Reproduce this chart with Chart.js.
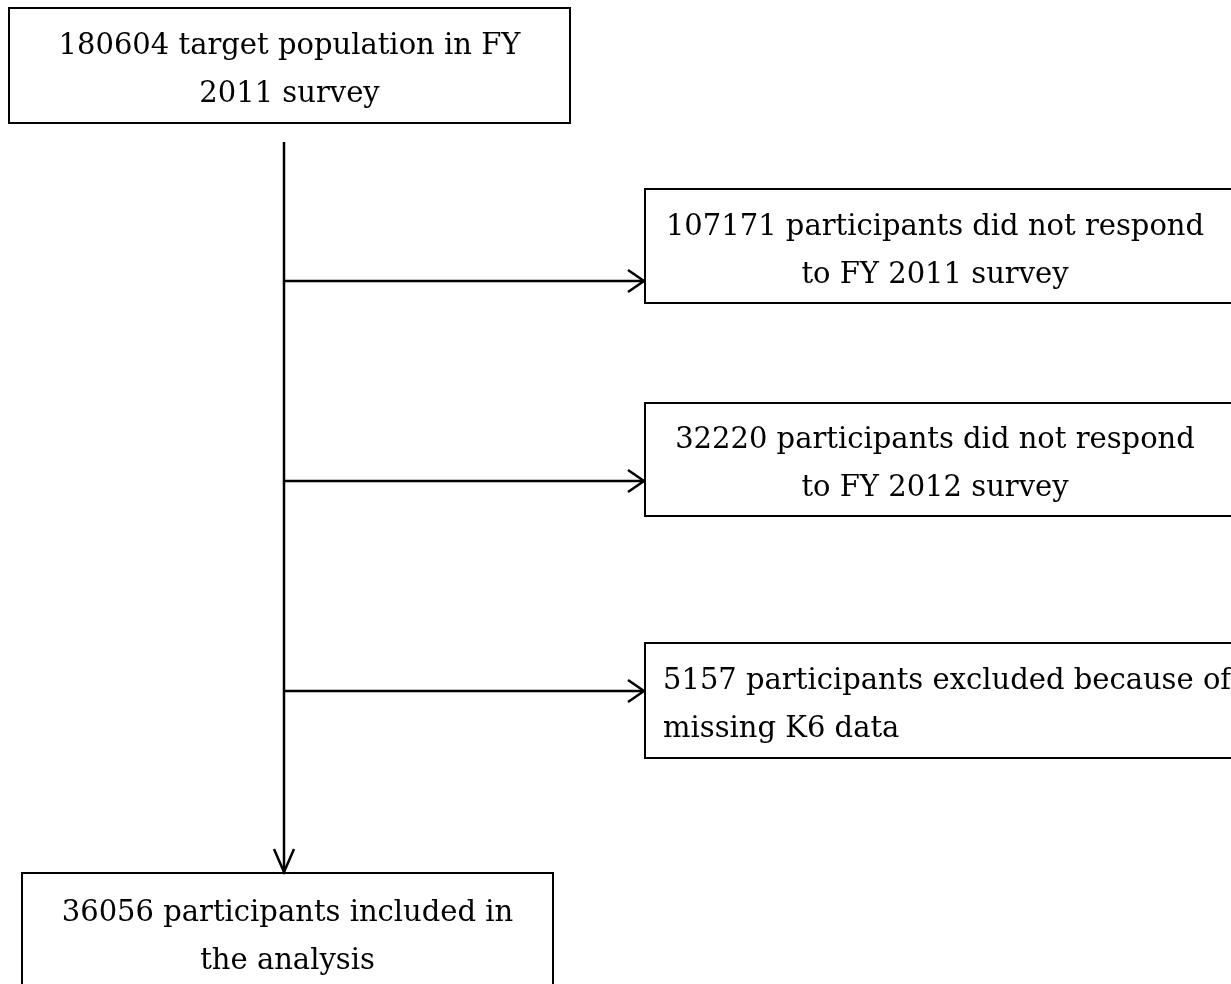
<!DOCTYPE html>
<html>
<head>
<meta charset="utf-8">
<script src="https://cdn.jsdelivr.net/npm/chart.js@4"></script>
<style>
  html, body { margin: 0; padding: 0; background: #fff; }
  canvas { display: block; }
</style>
</head>
<body>
<canvas id="flowChart" width="1231" height="984"></canvas>
<script>
// counts and labels of each step of the flow
const stepCounts = [180604, 107171, 32220, 5157, 36056];
const stepTexts = [
    ["target population in FY", "2011 survey"],
    ["participants did not respond", "to FY 2011 survey"],
    ["participants did not respond", "to FY 2012 survey"],
    ["participants excluded because of", "missing K6 data"],
    ["participants included in", "the analysis"]
];

// layout of the boxes (page pixels), one entry per step
const boxLeft = [9, 645, 645, 645, 22];
const boxRight = [570, 1240, 1240, 1240, 553];
const boxTop = [8, 189, 403, 643, 873];
const boxBottom = [123, 303, 516, 758, 1000];
const textAlign = ["center", "center", "center", "left", "center"];
const trunkX = 284;
const trunkTop = 142;
const branchY = [281, 481, 691];

const fontSize = 29;
const lineGap = 48;

function boxLines(i) {
    let lines = stepTexts[i].slice();
    lines[0] = stepCounts[i] + " " + lines[0];
    return lines;
}

function arrowHead(ctx, tx, ty, dir) {
    // open chevron, dir: "right" or "down"
    ctx.beginPath();
    if (dir === "right") {
        ctx.moveTo(tx - 16, ty - 11);
        ctx.lineTo(tx, ty);
        ctx.lineTo(tx - 16, ty + 11);
    } else {
        ctx.moveTo(tx - 10, ty - 23);
        ctx.lineTo(tx, ty);
        ctx.lineTo(tx + 10, ty - 23);
    }
    ctx.stroke();
}

const flowPlugin = {
    id: "flowPlugin",
    afterDraw(chart) {
        let ctx = chart.ctx;
        let x = chart.scales.x;
        let y = chart.scales.y;
        ctx.save();
        ctx.strokeStyle = "#000";
        ctx.fillStyle = "#000";
        ctx.lineCap = "butt";

        // boxes
        ctx.lineWidth = 2;
        for (let i = 0; i < stepCounts.length; i++) {
            let l = x.getPixelForValue(boxLeft[i]);
            let r = x.getPixelForValue(boxRight[i]);
            let t = y.getPixelForValue(boxTop[i]);
            let b = y.getPixelForValue(boxBottom[i]);
            ctx.strokeRect(l, t, r - l, b - t);

            let lines = boxLines(i);
            ctx.font = fontSize + "px 'DejaVu Serif', serif";
            ctx.textBaseline = "middle";
            let firstY = t + (b - t) / 2 - lineGap / 2 + 5;
            if (i === 4) firstY = t + 40;
            lines.forEach((txt, k) => {
                if (textAlign[i] === "left") {
                    ctx.textAlign = "left";
                    ctx.fillText(txt, l + 18, firstY + k * lineGap);
                } else {
                    ctx.textAlign = "center";
                    let cx = i > 0 && i < 4 ? l + 290 : (l + r) / 2;
                    ctx.fillText(txt, cx, firstY + k * lineGap);
                }
            });
        }

        // trunk with arrow into the last box
        ctx.lineWidth = 2.5;
        let tx = x.getPixelForValue(trunkX);
        let endY = y.getPixelForValue(boxTop[4]) - 1;
        ctx.beginPath();
        ctx.moveTo(tx, y.getPixelForValue(trunkTop));
        ctx.lineTo(tx, endY);
        ctx.stroke();
        arrowHead(ctx, tx, endY, "down");

        // branches to the exclusion boxes
        branchY.forEach((by, k) => {
            let py = y.getPixelForValue(by);
            let ex = x.getPixelForValue(boxLeft[k + 1]) - 1;
            ctx.beginPath();
            ctx.moveTo(tx, py);
            ctx.lineTo(ex, py);
            ctx.stroke();
            arrowHead(ctx, ex, py, "right");
        });
        ctx.restore();
    }
};

new Chart(document.getElementById("flowChart").getContext("2d"), {
    type: "scatter",
    data: { datasets: [{ data: [], pointRadius: 0 }] },
    options: {
        responsive: false,
        animation: false,
        devicePixelRatio: 1,
        layout: { padding: 0 },
        plugins: { legend: { display: false }, tooltip: { enabled: false } },
        scales: {
            x: { type: "linear", min: 0, max: 1231, display: false },
            y: { type: "linear", min: 0, max: 984, reverse: true, display: false }
        }
    },
    plugins: [flowPlugin]
});
</script>
</body>
</html>
